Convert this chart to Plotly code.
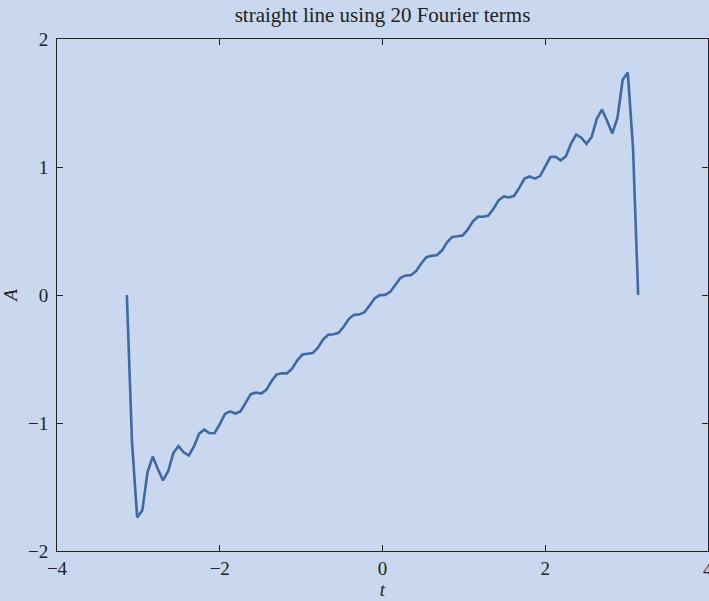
import numpy as np
import plotly.graph_objects as go

# Fourier partial sum values (100 evenly spaced samples on [-pi, pi])
A = [
    0.000, -1.153, -1.738, -1.681, -1.386, -1.262, -1.360, -1.448, -1.377, -1.235,
    -1.181, -1.229, -1.254, -1.183, -1.083, -1.052, -1.080, -1.078, -1.008, -0.929,
    -0.909, -0.926, -0.909, -0.839, -0.775, -0.762, -0.770, -0.741, -0.674, -0.620,
    -0.611, -0.612, -0.576, -0.510, -0.465, -0.459, -0.454, -0.411, -0.347, -0.310,
    -0.307, -0.295, -0.246, -0.186, -0.155, -0.153, -0.135, -0.082, -0.025, -0.001,
    0.001, 0.025, 0.082, 0.135, 0.153, 0.155, 0.186, 0.246, 0.295, 0.307,
    0.310, 0.347, 0.411, 0.454, 0.459, 0.465, 0.510, 0.576, 0.612, 0.611,
    0.620, 0.674, 0.741, 0.770, 0.762, 0.775, 0.839, 0.909, 0.926, 0.909,
    0.929, 1.008, 1.078, 1.080, 1.052, 1.083, 1.183, 1.254, 1.229, 1.181,
    1.235, 1.377, 1.448, 1.360, 1.262, 1.386, 1.681, 1.738, 1.153, 0.000,
]
t = np.linspace(-np.pi, np.pi, len(A))

x_ticks = [-4, -2, 0, 2, 4]
y_ticks = [-2, -1, 0, 1, 2]
title_text = "straight line using 20 Fourier terms"

BG = "#c9d8ee"
INK = "#222222"
FONT = "Liberation Serif"


def lab(v):
    return ("\u2212" + str(-v)) if v < 0 else str(v)


fig = go.Figure()
fig.add_trace(go.Scatter(x=t, y=A, mode="lines",
                         line=dict(color="#3d6aa4", width=2.6),
                         hoverinfo="skip", showlegend=False))

axis_common = dict(showline=True, mirror="ticks", linecolor=INK, linewidth=1,
                   ticks="inside", ticklen=6, tickwidth=1, tickcolor=INK,
                   showgrid=False, zeroline=False,
                   tickfont=dict(family=FONT, size=19, color=INK))

# the last x tick label sits on the page edge (clipped in the reference); draw it as an annotation
x_text = [lab(v) for v in x_ticks[:-1]] + [""]

fig.update_layout(
    width=709, height=601,
    margin=dict(l=57, r=1, t=39, b=50, pad=0),
    paper_bgcolor=BG, plot_bgcolor=BG,
    font=dict(family=FONT, size=19, color=INK),
    title=dict(text=title_text, xref="paper", x=0.5, xanchor="center",
               yref="container", y=1 - 15 / 601, yanchor="middle",
               font=dict(family=FONT, size=21, color=INK)),
    xaxis=dict(range=[-4, 4], tickvals=x_ticks, ticktext=x_text,
               title=dict(text="<i>t</i>", standoff=2, font=dict(family=FONT, size=19, color=INK)),
               **axis_common),
    yaxis=dict(range=[-2, 2], tickvals=y_ticks, ticktext=[lab(v) for v in y_ticks],
               title=dict(text="<i>A</i>", standoff=6, font=dict(family=FONT, size=19, color=INK)),
               ticklabelstandoff=4,
               **axis_common),
    annotations=[dict(x=x_ticks[-1], xref="x", y=0, yref="paper", text=lab(x_ticks[-1]),
                      showarrow=False, xanchor="center", yanchor="middle", yshift=-18,
                      font=dict(family=FONT, size=19, color=INK))],
)

fig.write_html("out.html")
